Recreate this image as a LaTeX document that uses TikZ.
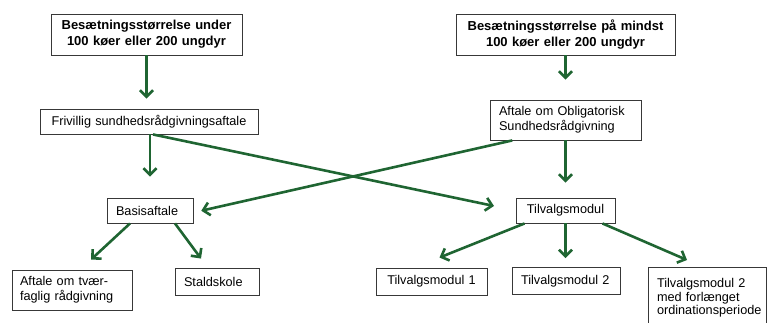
\documentclass[tikz,border=0pt]{standalone}
\usepackage{fontspec}
\setmainfont{Liberation Sans}
\usepackage{xcolor}
\definecolor{colorArrow}{HTML}{1F6532}
\colorlet{colorBorder}{black!78}
\usetikzlibrary{arrows.meta, positioning}
\tikzset{
  box/.style={draw=colorBorder, line width=0.9pt, align=left, inner xsep=9pt, inner ysep=3pt,
    font=\fontsize{12.7}{15}\selectfont},
  topbox/.style={box, align=center, font=\bfseries\fontsize{13}{16}\selectfont},
  arr/.style={-{Straight Barb[length=6.5pt,width=13pt]}, colorArrow, line width=2.6pt}
}

\begin{document}
\begin{tikzpicture}[x=1pt, y=-1pt]
\useasboundingbox (0,0) rectangle (768,322);
% top level
\node[topbox, text width=173pt, minimum height=41pt] (under) at (146.5,34.5) {Besætningsstørrelse under\\100 køer eller 200 ungdyr};
\node[topbox, text width=201pt, minimum height=41pt] (mindst) at (565.5,34.5) {Besætningsstørrelse på mindst\\100 køer eller 200 ungdyr};
% agreements
\node[box, align=center, text width=200pt, minimum height=25pt] (frivillig) at (149,121.5) {Frivillig sundhedsrådgivningsaftale};
\node[box, text width=133pt, minimum height=40pt] (obligatorisk) at (565.5,120) {Aftale om Obligatorisk\\Sundhedsrådgivning};
\node[box, text width=68pt, minimum height=25pt] (basis) at (150,210.5) {Basisaftale};
\node[box, align=center, text width=81pt, minimum height=25pt] (tilvalg) at (565.5,210.5) {Tilvalgsmodul};
% bottom level
\node[box, inner xsep=8pt, text width=104pt, minimum height=40pt] (tvaer) at (72,290) {Aftale om tvær-\\faglig rådgivning};
\node[box, text width=66pt, minimum height=27pt] (stald) at (217,281.5) {Staldskole};
\node[box, align=center, text width=93pt, minimum height=27pt] (modulA) at (431.5,281.5) {Tilvalgsmodul 1};
\node[box, text width=90pt, minimum height=27pt] (modulB) at (566,281) {Tilvalgsmodul 2};
\node[box, anchor=north, inner ysep=11pt, text width=100pt, font=\fontsize{12.7}{13.5}\selectfont] (modulC) at (707,267) {Tilvalgsmodul 2\\med forlænget\\ordinationsperiode};

\draw[arr, shorten >=10pt] (under.south) -- (under.south |- frivillig.north);
\draw[arr, shorten >=20pt] (mindst.south) -- (mindst.south |- obligatorisk.north);
\draw[arr, shorten >=21pt] (frivillig.south -| basis.north) -- (basis.north);
\draw[arr, shorten >=22pt] ([xshift=4pt]frivillig.south) -- (tilvalg.west);
\draw[arr, shorten >=8pt] (obligatorisk.201) -- ([yshift=-2pt]basis.east);
\draw[arr, shorten >=15pt] (obligatorisk.south) -- (tilvalg.north);
\draw[arr] ([xshift=-20pt]basis.south) -- ([xshift=19pt,yshift=10pt]tvaer.north);
\draw[arr] ([xshift=25pt]basis.south) -- ([xshift=-16pt,yshift=9pt]stald.north);
\draw[arr] ([xshift=-41pt]tilvalg.south) -- ([xshift=8pt,yshift=10pt]modulA.north);
\draw[arr, shorten >=9pt] (tilvalg.south) -- (tilvalg.south |- modulB.north);
\draw[arr] ([xshift=37pt]tilvalg.south) -- ([xshift=-20pt,yshift=7pt]modulC.north);
\end{tikzpicture}
\end{document}
